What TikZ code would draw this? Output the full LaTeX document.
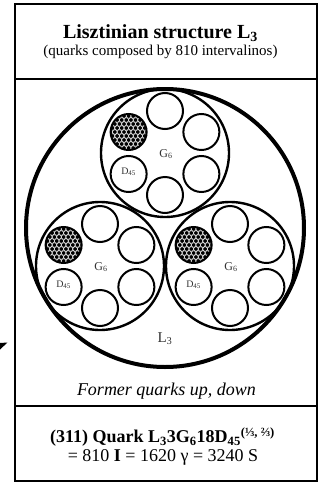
\documentclass[tikz,border=0pt]{standalone}
\usepackage{fontspec}
\setmainfont{Liberation Serif}
\usepackage{tikz}
\usetikzlibrary{calc}

\begin{document}
\begin{tikzpicture}[x=1pt,y=-1pt,
    bead/.style={circle,draw,line width=2pt,minimum size=36pt,inner sep=0pt},
    shell/.style={circle,draw,line width=2.4pt,minimum size=128pt,inner sep=0pt},
    tag/.style={inner sep=0pt,text=black!80}]
    \useasboundingbox (0,0) rectangle (326,485);

    % Frame
    \draw[line width=2.6pt] (15,4) rectangle (317,481);
    \draw[line width=2.6pt] (15,79) -- (317,79);
    \draw[line width=2.6pt] (15,406) -- (317,406);

    % Header
    \node[anchor=base] (title) at (160.5,38) {\fontsize{20}{24}\selectfont\textbf{Lisztinian structure L\textsubscript{3}}};
    \node[anchor=base] (subtitle) at (160.5,55) {\fontsize{15}{18}\selectfont(quarks composed by 810 intervalinos)};

    % Structure L3
    \node[circle,draw,line width=4pt,minimum size=278pt,inner sep=0pt] (lbig) at (165,228) {};
    \node[tag] (llabel) at (165,339) {\fontsize{15}{18}\selectfont L\textsubscript{3}};

    \foreach \name/\px/\py in {gtop/165/153, gleft/100/266, gright/230/266} {
        \node[shell] (\name) at (\px,\py) {};
        \node[tag] (\name-lab) at ($(\name.center)+(1,1)$) {\fontsize{12}{14}\selectfont G\textsubscript{6}};
        % six beads
        \foreach \a in {90,30,-30,-90,-150} {
            \node[bead] (\name-\a) at ($(\name.center)+(\a:42pt)$) {};
        }
        \node[tag] (\name-d) at ($(\name.center)+(-150:42pt)+(0,-2)$) {\fontsize{10}{12}\selectfont D\textsubscript{45}};
        % dense bead
        \coordinate (\name-f) at ($(\name.center)+(150:42pt)$);
        \begin{scope}
            \clip (\name-f) circle (18);
            \fill (\name-f) circle (18);
            \foreach \i in {-5,...,5} {
                \foreach \j in {-5,...,5} {
                    \draw[white,line width=0.45pt] ($(\name-f)+(\i*4.6+\j*2.3,\j*4)$) circle (2.3);
                }
            }
        \end{scope}
        \node[bead] (\name-150) at (\name-f) {};
    }

    \node[anchor=base] (former) at (166.5,395) {\fontsize{18}{22}\selectfont\itshape Former quarks up, down};

    % Footer
    \node[anchor=base] (quark) at (162.5,442.5) {\fontsize{18}{22}\selectfont\textbf{(311) Quark L\textsubscript{3}3G\textsubscript{6}18D\textsubscript{45}\textsuperscript{(⅓, ⅔)}}};
    \node[anchor=base] (values) at (163,461.5) {\fontsize{18}{22}\selectfont = 810 \textbf{I} = 1620 γ = 3240 S};

    % cut arrow tip
    \fill (0,343) -- (7.5,342.5) -- (0,349.5) -- cycle;
\end{tikzpicture}
\end{document}
